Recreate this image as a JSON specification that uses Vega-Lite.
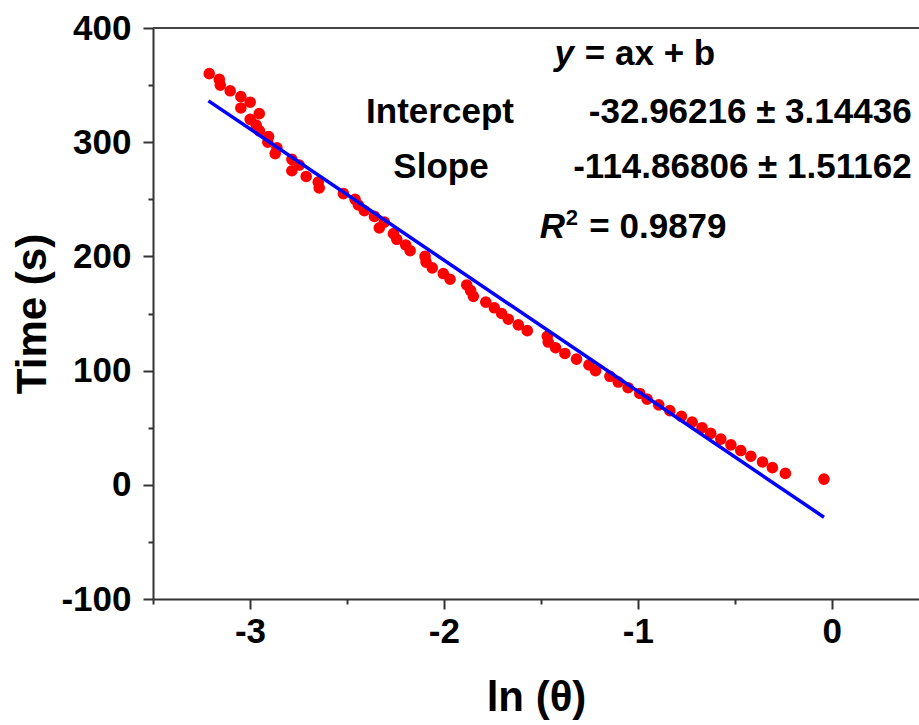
{
  "$schema": "https://vega.github.io/schema/vega-lite/v6.json",
  "width": 766,
  "height": 571,
  "autosize": {"type": "none"},
  "padding": {"left": 153, "top": 28, "right": 0, "bottom": 126},
  "background": "white",
  "config": {
    "view": {"stroke": null},
    "font": "Liberation Sans",
    "axis": {
      "domainColor": "#333333",
      "domainWidth": 2,
      "tickColor": "#333333",
      "tickWidth": 2,
      "grid": false,
      "labelFont": "Liberation Sans",
      "labelFontWeight": "bold",
      "labelFontSize": 35,
      "labelColor": "black",
      "titleFont": "Liberation Sans",
      "titleFontWeight": "bold",
      "titleFontSize": 42,
      "titleColor": "black"
    }
  },
  "datasets": {
    "pts": [
      {"lnt": -3.210, "time": 360}, {"lnt": -3.158, "time": 355}, {"lnt": -3.153, "time": 350},
      {"lnt": -3.102, "time": 345}, {"lnt": -3.047, "time": 340}, {"lnt": -2.999, "time": 335},
      {"lnt": -3.047, "time": 330}, {"lnt": -2.952, "time": 325}, {"lnt": -2.999, "time": 320},
      {"lnt": -2.968, "time": 315}, {"lnt": -2.951, "time": 310}, {"lnt": -2.904, "time": 305},
      {"lnt": -2.908, "time": 300}, {"lnt": -2.861, "time": 295}, {"lnt": -2.870, "time": 290},
      {"lnt": -2.784, "time": 285}, {"lnt": -2.746, "time": 280}, {"lnt": -2.784, "time": 275},
      {"lnt": -2.710, "time": 270}, {"lnt": -2.648, "time": 265}, {"lnt": -2.643, "time": 260},
      {"lnt": -2.518, "time": 255}, {"lnt": -2.458, "time": 250}, {"lnt": -2.441, "time": 245},
      {"lnt": -2.410, "time": 240}, {"lnt": -2.358, "time": 235}, {"lnt": -2.307, "time": 230},
      {"lnt": -2.333, "time": 225}, {"lnt": -2.260, "time": 220}, {"lnt": -2.243, "time": 215},
      {"lnt": -2.197, "time": 210}, {"lnt": -2.174, "time": 205}, {"lnt": -2.097, "time": 200},
      {"lnt": -2.092, "time": 195}, {"lnt": -2.060, "time": 190}, {"lnt": -2.003, "time": 185},
      {"lnt": -1.968, "time": 180}, {"lnt": -1.882, "time": 175}, {"lnt": -1.862, "time": 170},
      {"lnt": -1.848, "time": 165}, {"lnt": -1.784, "time": 160}, {"lnt": -1.740, "time": 155},
      {"lnt": -1.702, "time": 150}, {"lnt": -1.668, "time": 145}, {"lnt": -1.616, "time": 140},
      {"lnt": -1.570, "time": 135}, {"lnt": -1.467, "time": 130}, {"lnt": -1.462, "time": 125},
      {"lnt": -1.424, "time": 120}, {"lnt": -1.376, "time": 115}, {"lnt": -1.316, "time": 110},
      {"lnt": -1.252, "time": 105}, {"lnt": -1.218, "time": 100}, {"lnt": -1.144, "time": 95},
      {"lnt": -1.101, "time": 90}, {"lnt": -1.050, "time": 85}, {"lnt": -0.990, "time": 80},
      {"lnt": -0.952, "time": 75}, {"lnt": -0.892, "time": 70}, {"lnt": -0.835, "time": 65},
      {"lnt": -0.775, "time": 60}, {"lnt": -0.720, "time": 55}, {"lnt": -0.669, "time": 50},
      {"lnt": -0.624, "time": 45}, {"lnt": -0.572, "time": 40}, {"lnt": -0.520, "time": 35},
      {"lnt": -0.469, "time": 30}, {"lnt": -0.417, "time": 25}, {"lnt": -0.357, "time": 20},
      {"lnt": -0.306, "time": 15}, {"lnt": -0.239, "time": 10}, {"lnt": -0.040, "time": 5}
    ],
    "fit": [
      {"lnt": -3.214, "time": 336.23},
      {"lnt": -0.040, "time": -28.37}
    ],
    "centerText": [
      {"lnt": -2.020, "time": 316.8, "label": "Intercept"},
      {"lnt": -2.015, "time": 268.7, "label": "Slope"}
    ],
    "rightText": [
      {"lnt": 0.412, "time": 316.8, "label": "-32.96216 ± 3.14436"},
      {"lnt": 0.412, "time": 268.7, "label": "-114.86806 ± 1.51162"}
    ],
    "italicText": [
      {"lnt": -1.329, "time": 367.9, "label": "y"},
      {"lnt": -1.375, "time": 216.1, "label": "R"}
    ],
    "leftText": [
      {"lnt": -1.273, "time": 367.9, "label": "= ax + b"},
      {"lnt": -1.250, "time": 216.1, "label": "= 0.9879"}
    ],
    "supText": [
      {"lnt": -1.371, "time": 227.8, "label": "2"}
    ],
    "frame": [
      {"time": 400}
    ]
  },
  "layer": [
    {
      "data": {"name": "pts"},
      "mark": {"type": "circle", "size": 135, "color": "#ff0000", "opacity": 1},
      "encoding": {
        "x": {
          "field": "lnt", "type": "quantitative",
          "scale": {"domain": [-3.5, 0.45], "nice": false, "zero": false},
          "axis": {
            "title": "ln (θ)",
            "values": [-3.5, -3, -2.5, -2, -1.5, -1, -0.5, 0],
            "labelExpr": "datum.value % 1 === 0 ? '' + datum.value : ''",
            "tickSize": {"condition": {"test": "datum.value % 1 !== 0", "value": 5}, "value": 10},
            "labelPadding": 5,
            "titlePadding": 28
          }
        },
        "y": {
          "field": "time", "type": "quantitative",
          "scale": {"domain": [-100, 400], "nice": false, "zero": false},
          "axis": {
            "title": "Time (s)",
            "values": [-100, -50, 0, 50, 100, 150, 200, 250, 300, 350, 400],
            "labelExpr": "datum.value % 100 === 0 ? '' + datum.value : ''",
            "tickSize": {"condition": {"test": "datum.value % 100 !== 0", "value": 5}, "value": 10},
            "labelPadding": 12,
            "titlePadding": 6
          }
        }
      }
    },
    {
      "data": {"name": "frame"},
      "mark": {"type": "rule", "color": "#444444", "strokeWidth": 2},
      "encoding": {
        "y": {"field": "time", "type": "quantitative"}
      }
    },
    {
      "data": {"name": "fit"},
      "mark": {"type": "line", "color": "#0000ff", "strokeWidth": 3.5},
      "encoding": {
        "x": {"field": "lnt", "type": "quantitative"},
        "y": {"field": "time", "type": "quantitative"}
      }
    },
    {
      "data": {"name": "centerText"},
      "mark": {"type": "text", "font": "Liberation Sans", "fontWeight": "bold", "fontSize": 35, "align": "center", "baseline": "alphabetic", "color": "black"},
      "encoding": {
        "x": {"field": "lnt", "type": "quantitative"},
        "y": {"field": "time", "type": "quantitative"},
        "text": {"field": "label"}
      }
    },
    {
      "data": {"name": "rightText"},
      "mark": {"type": "text", "font": "Liberation Sans", "fontWeight": "bold", "fontSize": 35, "align": "right", "baseline": "alphabetic", "color": "black"},
      "encoding": {
        "x": {"field": "lnt", "type": "quantitative"},
        "y": {"field": "time", "type": "quantitative"},
        "text": {"field": "label"}
      }
    },
    {
      "data": {"name": "italicText"},
      "mark": {"type": "text", "font": "Liberation Sans", "fontWeight": "bold", "fontStyle": "italic", "fontSize": 35, "align": "right", "baseline": "alphabetic", "color": "black"},
      "encoding": {
        "x": {"field": "lnt", "type": "quantitative"},
        "y": {"field": "time", "type": "quantitative"},
        "text": {"field": "label"}
      }
    },
    {
      "data": {"name": "leftText"},
      "mark": {"type": "text", "font": "Liberation Sans", "fontWeight": "bold", "fontSize": 35, "align": "left", "baseline": "alphabetic", "color": "black"},
      "encoding": {
        "x": {"field": "lnt", "type": "quantitative"},
        "y": {"field": "time", "type": "quantitative"},
        "text": {"field": "label"}
      }
    },
    {
      "data": {"name": "supText"},
      "mark": {"type": "text", "font": "Liberation Sans", "fontWeight": "bold", "fontSize": 22, "align": "left", "baseline": "alphabetic", "color": "black"},
      "encoding": {
        "x": {"field": "lnt", "type": "quantitative"},
        "y": {"field": "time", "type": "quantitative"},
        "text": {"field": "label"}
      }
    }
  ]
}
